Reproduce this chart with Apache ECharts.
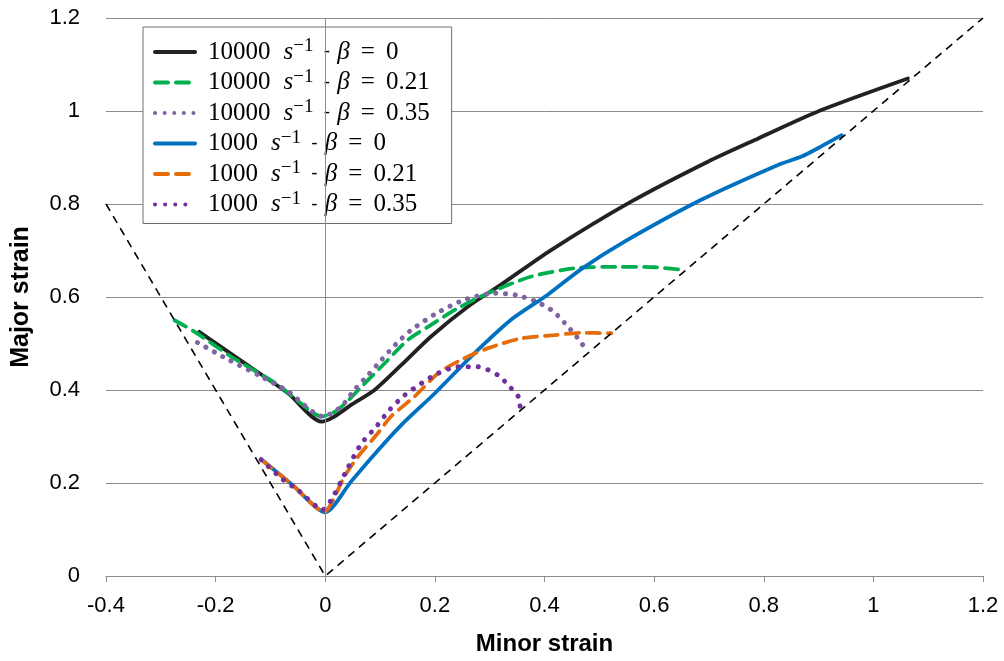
<!DOCTYPE html>
<html>
<head>
<meta charset="utf-8">
<script src="https://cdn.jsdelivr.net/npm/echarts@6/dist/echarts.min.js"></script>
<style>html,body{margin:0;padding:0;background:#fff}#c{width:1004px;height:661px}</style>
</head>
<body>
<div id="c"></div>
<script>
// Axis ticks
const xTicks = [-0.4, -0.2, 0, 0.2, 0.4, 0.6, 0.8, 1, 1.2];
const yTicks = [0, 0.2, 0.4, 0.6, 0.8, 1, 1.2];

// Series names (legend)
const names = ['10000 s-1 - b=0', '10000 s-1 - b=0.21', '10000 s-1 - b=0.35',
               '1000 s-1 - b=0', '1000 s-1 - b=0.21', '1000 s-1 - b=0.35'];
const rates = ['10000', '10000', '10000', '1000', '1000', '1000'];
const betas = ['0', '0.21', '0.35', '0', '0.21', '0.35'];

// [minor strain, major strain]
const s10000_b0 = [[-0.23,0.525],[-0.16,0.468],[-0.068,0.393],[-0.007,0.332],[0.014,0.341],[0.05,0.37],[0.09,0.40],[0.139,0.454],[0.193,0.515],[0.26,0.579],[0.32,0.626],[0.412,0.701],[0.558,0.805],[0.698,0.891],[0.79,0.941],[0.905,1.002],[1.063,1.07]];
const s10000_b021 = [[-0.275,0.55],[-0.238,0.525],[-0.172,0.472],[-0.086,0.411],[-0.044,0.371],[-0.007,0.343],[0.023,0.357],[0.066,0.407],[0.108,0.457],[0.151,0.508],[0.193,0.54],[0.242,0.576],[0.297,0.608],[0.376,0.644],[0.455,0.662],[0.534,0.665],[0.6,0.664],[0.656,0.658]];
const s10000_b035 = [[-0.233,0.502],[-0.181,0.468],[-0.117,0.429],[-0.068,0.397],[-0.004,0.343],[0.029,0.364],[0.053,0.40],[0.078,0.432],[0.102,0.464],[0.13,0.50],[0.157,0.529],[0.203,0.565],[0.254,0.594],[0.309,0.608],[0.349,0.604],[0.385,0.59],[0.416,0.569],[0.443,0.536],[0.467,0.502],[0.478,0.48]];
const s1000_b0 = [[-0.117,0.251],[-0.06,0.196],[0.0,0.137],[0.047,0.203],[0.09,0.262],[0.139,0.325],[0.2,0.393],[0.266,0.472],[0.339,0.551],[0.406,0.605],[0.467,0.66],[0.546,0.719],[0.686,0.809],[0.826,0.884],[0.869,0.902],[0.905,0.924],[0.942,0.948]];
const s1000_b021 = [[-0.117,0.25],[-0.06,0.196],[-0.001,0.138],[0.014,0.163],[0.035,0.214],[0.06,0.257],[0.096,0.307],[0.12,0.343],[0.163,0.386],[0.206,0.436],[0.248,0.465],[0.297,0.49],[0.358,0.511],[0.418,0.518],[0.467,0.523],[0.522,0.522]];
const s1000_b035 = [[-0.117,0.25],[-0.08,0.21],[-0.05,0.185],[-0.004,0.143],[0.014,0.17],[0.041,0.232],[0.066,0.285],[0.093,0.321],[0.117,0.357],[0.145,0.389],[0.175,0.414],[0.206,0.436],[0.242,0.45],[0.278,0.45],[0.315,0.432],[0.339,0.404],[0.352,0.386],[0.356,0.36]];
// Forming-limit boundary lines
const boundary = [[-0.4,0.8],[0,0],[1.2,1.2]];

const colors = ['#222222', '#00B050', '#8064A2', '#0070C0', '#E46C0A', '#7030A0'];
const dataSets = [s10000_b0, s10000_b021, s10000_b035, s1000_b0, s1000_b021, s1000_b035];
const dashes = ['solid', [13, 8], [0.1, 9.5], 'solid', [13, 8], [0.1, 10]];
const widths = [3.8, 3.8, 5, 3.8, 3.8, 5];

const SERIF = 'Liberation Serif';
const SANS = 'Liberation Sans';

const labelMap = {};
names.forEach((n, i) => {
  labelMap[n] = '{n|' + rates[i] + '}{sp| }{i|s}{sup|−1}{d| - }{i|β}{e|=}{n|' + betas[i] + '}';
});

const series = names.map((n, i) => ({
  name: n,
  type: 'line',
  data: dataSets[i],
  showSymbol: false,
  symbol: 'none',
  smooth: 0.25,
  lineStyle: { color: colors[i], width: widths[i], type: dashes[i], cap: 'round' },
  itemStyle: { color: colors[i] },
  z: 3
}));
series.push({
  name: 'boundary',
  type: 'line',
  data: boundary,
  symbol: 'none',
  lineStyle: { color: '#000', width: 1.6, type: [8, 6] },
  z: 4,
  markLine: {
    silent: true, symbol: 'none', label: { show: false },
    lineStyle: { color: '#8c8c8c', width: 1, type: 'solid' },
    data: [{ xAxis: 0 }]
  }
});

const LH = 30;
const chart = echarts.init(document.getElementById('c'));
chart.setOption({
  animation: false,
  backgroundColor: '#fff',
  grid: { left: 106, right: 21, top: 18, bottom: 85, containLabel: false },
  xAxis: {
    type: 'value', min: xTicks[0], max: xTicks[xTicks.length - 1], interval: 0.2,
    name: 'Minor strain', nameLocation: 'middle', nameGap: 56,
    nameTextStyle: { fontFamily: SANS, fontWeight: 'bold', fontSize: 24, color: '#000' },
    axisLine: { show: true, onZero: false, lineStyle: { color: '#8c8c8c', width: 1 } },
    axisTick: { show: true, length: 6, lineStyle: { color: '#8c8c8c' } },
    splitLine: { show: false },
    axisLabel: { fontFamily: SANS, fontSize: 22, color: '#000', margin: 19 }
  },
  yAxis: {
    type: 'value', min: yTicks[0], max: yTicks[yTicks.length - 1], interval: 0.2,
    name: 'Major strain', nameLocation: 'middle', nameGap: 72,
    nameTextStyle: { fontFamily: SANS, fontWeight: 'bold', fontSize: 25, color: '#000' },
    axisLine: { show: false },
    axisTick: { show: false },
    splitLine: { show: true, lineStyle: { color: '#8c8c8c', width: 1 } },
    axisLabel: { fontFamily: SANS, fontSize: 22, color: '#000', margin: 26 }
  },
  legend: {
    data: names,
    orient: 'vertical',
    left: 143, top: 27,
    padding: [10, 22, 4, 10],
    itemWidth: 40, itemHeight: 14, itemGap: 0.5,
    backgroundColor: '#fff',
    borderColor: '#6e6e6e', borderWidth: 1,
    itemStyle: { opacity: 0 },
    lineStyle: { width: 4, cap: 'round' },
    formatter: n => labelMap[n],
    textStyle: {
      padding: [0, 0, 0, 8],
      lineHeight: LH,
      rich: {
        n: { fontFamily: SERIF, fontSize: 25, color: '#000', lineHeight: LH, verticalAlign: 'middle' },
        sp: { fontFamily: SERIF, fontSize: 25, color: '#000', lineHeight: LH, verticalAlign: 'middle', width: 13 },
        i: { fontFamily: SERIF, fontStyle: 'italic', fontSize: 25, color: '#000', lineHeight: LH, verticalAlign: 'middle' },
        sup: { fontFamily: SERIF, fontSize: 19, color: '#000', lineHeight: LH, verticalAlign: 'top', padding: [0, 2, 0, 0] },
        d: { fontFamily: SANS, fontSize: 19, color: '#000', lineHeight: LH, verticalAlign: 'middle', padding: [0, 2, 0, 3] },
        e: { fontFamily: SERIF, fontSize: 25, color: '#000', lineHeight: LH, verticalAlign: 'middle', padding: [0, 11, 0, 11] }
      }
    }
  },
  series: series
});
</script>
</body>
</html>
